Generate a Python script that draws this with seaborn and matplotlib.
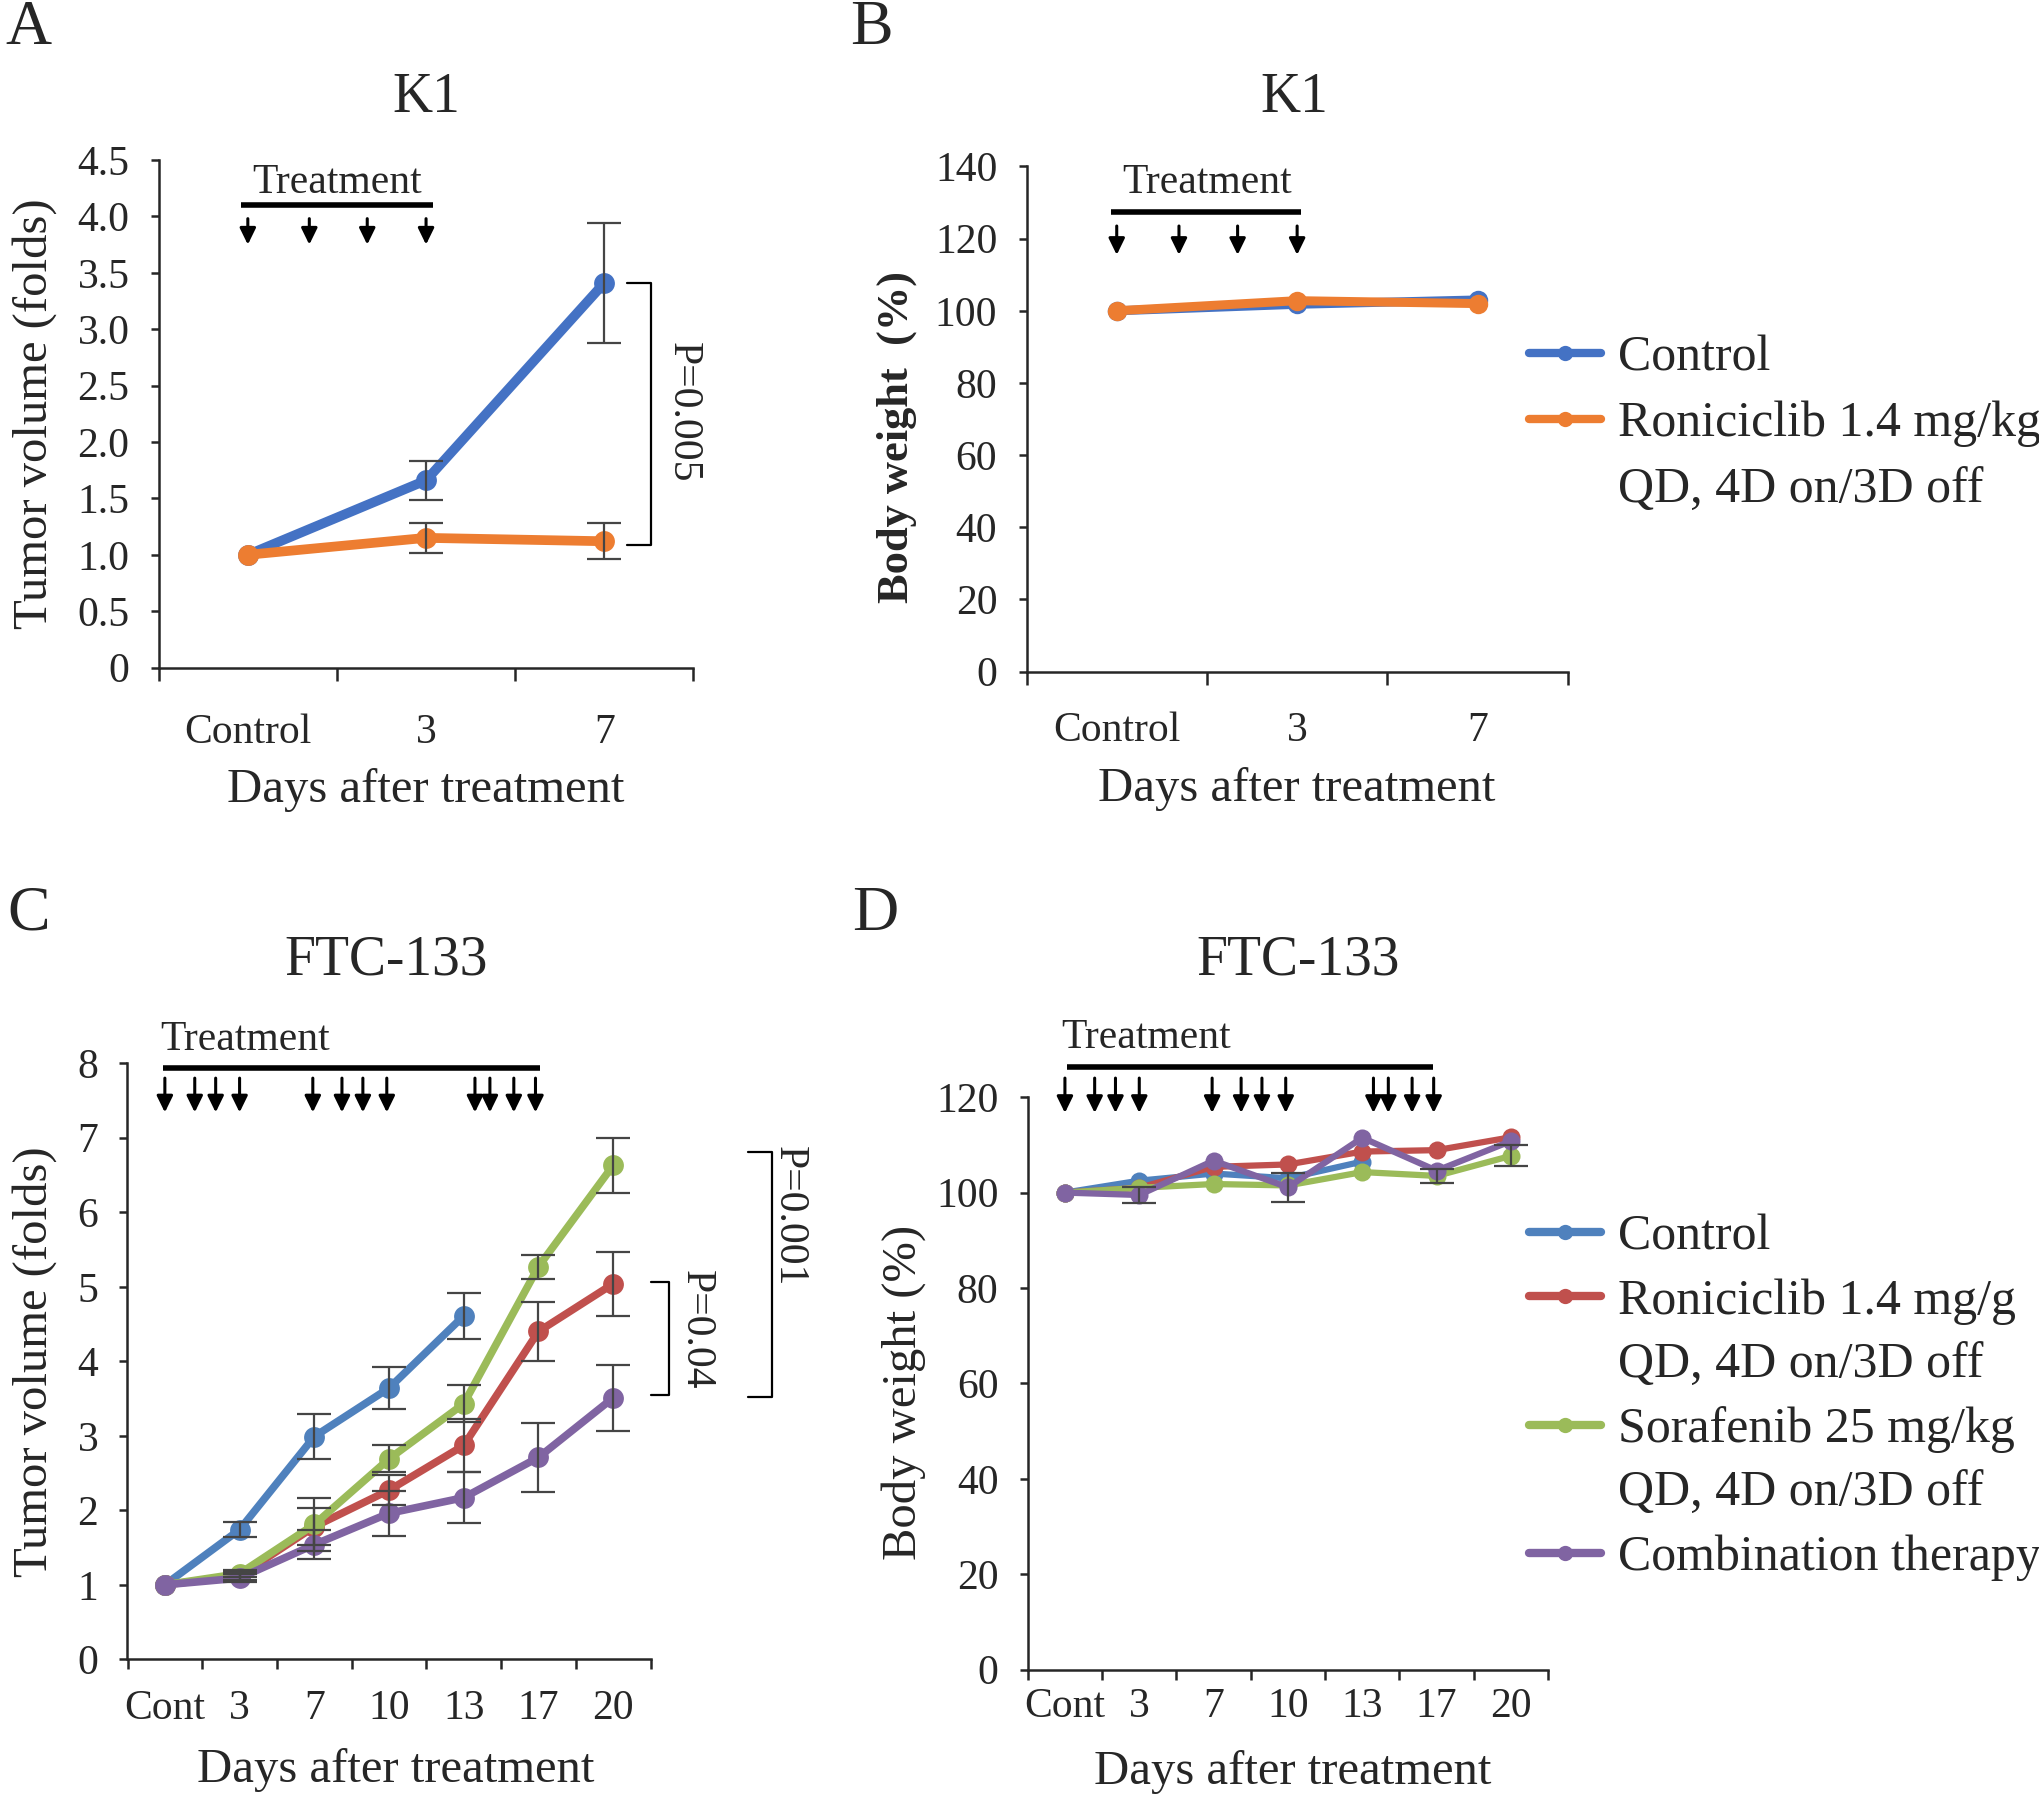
import numpy as np
import pandas as pd
import matplotlib
matplotlib.use("Agg")
import matplotlib.pyplot as plt
from matplotlib.lines import Line2D
import seaborn as sns

# values
k1_days = ["Control", "3", "7"]
k1_vol_ctrl = [1.0, 1.66, 3.41]
k1_vol_ctrl_err = [0, 0.17, 0.53]
k1_vol_ron = [1.0, 1.15, 1.12]
k1_vol_ron_err = [0, 0.13, 0.16]
k1_bw_ctrl = [100, 101.8, 103.0]
k1_bw_ron = [100, 102.8, 102.0]
k1_doses = [0, 0.345, 0.67, 1.0]

ftc_days = ["Cont", "3", "7", "10", "13", "17", "20"]
ftc_vol_ctrl = [1.0, 1.74, 2.99, 3.64, 4.61, np.nan, np.nan]
ftc_vol_ctrl_err = [0, 0.10, 0.30, 0.28, 0.31, np.nan, np.nan]
ftc_vol_ron = [1.0, 1.12, 1.78, 2.27, 2.87, 4.40, 5.04]
ftc_vol_ron_err = [0, 0.05, 0.25, 0.20, 0.35, 0.40, 0.43]
ftc_vol_sora = [1.0, 1.15, 1.81, 2.69, 3.43, 5.27, 6.63]
ftc_vol_sora_err = [0, 0.05, 0.36, 0.18, 0.25, 0.16, 0.37]
ftc_vol_combo = [1.0, 1.09, 1.54, 1.96, 2.17, 2.71, 3.51]
ftc_vol_combo_err = [0, 0.05, 0.20, 0.30, 0.34, 0.46, 0.44]

ftc_bw_ctrl = [100, 102.5, 104.0, 103.0, 106.5, np.nan, np.nan]
ftc_bw_ron = [100, 101.0, 105.4, 105.9, 108.6, 108.9, 111.6]
ftc_bw_sora = [100, 101.0, 101.8, 101.5, 104.3, 103.5, 107.7]
ftc_bw_combo = [100, 99.5, 106.7, 101.1, 111.5, 104.6, 110.8]
ftc_bw_sora_err = [0, 0, 0, 0, 0, 1.5, 2.2]
ftc_bw_combo_err = [0, 1.6, 0, 3.0, 0, 0, 0]
ftc_doses = [0, 0.4, 0.68, 1.0, 1.98, 2.37, 2.65, 2.97, 4.15, 4.35, 4.67, 4.96]

vol_k1_ticks = [0, 0.5, 1.0, 1.5, 2.0, 2.5, 3.0, 3.5, 4.0, 4.5]
vol_k1_ticklabels = ["0", "0.5", "1.0", "1.5", "2.0", "2.5", "3.0", "3.5", "4.0", "4.5"]
bw_k1_ticks = [0, 20, 40, 60, 80, 100, 120, 140]
vol_ftc_ticks = [0, 1, 2, 3, 4, 5, 6, 7, 8]
bw_ftc_ticks = [0, 20, 40, 60, 80, 100, 120]

k1_names = ["Control", "Roniciclib 1.4 mg/kg"]
k1_colors = ["#4472C4", "#ED7D31"]
ftc_names = ["Control", "Roniciclib 1.4 mg/g", "Sorafenib 25 mg/kg", "Combination therapy"]
ftc_colors = ["#4F81BD", "#C0504D", "#9BBB59", "#8064A2"]

sns.set_style("ticks")
plt.rcParams["font.family"] = ["Liberation Serif", "DejaVu Serif"]
plt.rcParams["axes.linewidth"] = 1.8


def draw_lines(ax, days, series, errs, colors, lw, ms):
    x = np.arange(len(days))
    rows = []
    for name, vals in series.items():
        for xi, v in zip(x, vals):
            rows.append((xi, v, name))
    df = pd.DataFrame(rows, columns=["pos", "value", "group"]).dropna()
    sns.lineplot(data=df, x="pos", y="value", hue="group", hue_order=list(series),
                 palette=colors, estimator=None, errorbar=None, marker="o",
                 markersize=ms, markeredgewidth=0, linewidth=lw, legend=False,
                 sort=False, ax=ax)
    for name, e in errs.items():
        v = np.array(series[name], float)
        e = np.array(e, float)
        m = e > 0
        ax.errorbar(x[m], v[m], yerr=e[m], fmt="none", ecolor="#454545",
                    elinewidth=1.6, capsize=12, capthick=1.6, zorder=4)


def style_axes(ax, days, ylim, yticks, yticklabels, xtick_len, xpad):
    n = len(days)
    ax.set_xlim(-0.5, n - 0.5)
    ax.set_ylim(*ylim)
    ax.set_xticks(np.arange(n + 1) - 0.5)
    ax.set_xticklabels([])
    ax.set_xticks(np.arange(n), minor=True)
    ax.set_xticklabels(days, minor=True)
    ax.tick_params(axis="x", which="major", length=xtick_len, width=1.8, direction="out")
    ax.tick_params(axis="x", which="minor", length=0, pad=xpad, labelsize=30)
    ax.set_yticks(yticks)
    ax.set_yticklabels(yticklabels)
    ax.tick_params(axis="y", length=6, width=1.8, pad=15, labelsize=30)
    sns.despine(ax=ax)


def treatment(ax, doses, bar, y_bar, y_arrow, text_xy, ha):
    ax.plot(bar, [y_bar, y_bar], color="k", lw=4, clip_on=False, solid_capstyle="butt")
    for d in doses:
        ax.annotate("", xy=(d, y_arrow[1]), xytext=(d, y_arrow[0]),
                    arrowprops=dict(arrowstyle="-|>,head_length=0.45,head_width=0.22",
                                    color="k", lw=2.2, mutation_scale=22,
                                    shrinkA=0, shrinkB=0),
                    annotation_clip=False)
    ax.text(text_xy[0], text_xy[1], "Treatment", ha=ha, va="center", fontsize=30)


def bracket(ax, x, x_cap, y0, y1, label, tx, ty):
    ax.plot([x_cap, x, x, x_cap], [y0, y0, y1, y1], color="k", lw=1.6, clip_on=False)
    ax.text(tx, ty, label, rotation=270, ha="center", va="center", fontsize=30)


def add_legend(fig, names, colors, y_top, spacing):
    handles, labels = [], []
    for name, c in zip(names, colors):
        handles.append(Line2D([], [], color=c, lw=6, marker="o", markersize=11,
                              markeredgewidth=0))
        labels.append(name)
        if name != "Control" and name != "Combination therapy":
            handles.append(Line2D([], [], lw=0))
            labels.append("QD, 4D on/3D off")
    fig.legend(handles, labels, loc="upper left", bbox_to_anchor=(0.7494, y_top),
               frameon=False, fontsize=36, handlelength=1.45, handletextpad=0.33,
               labelspacing=spacing, borderaxespad=0, borderpad=0)


fig = plt.figure(figsize=(20.4, 17.96), dpi=100)

# A: K1 tumour volume
ax = fig.add_axes([0.0778, 0.6283, 0.2621, 0.2826])
draw_lines(ax, k1_days, dict(zip(k1_names, [k1_vol_ctrl, k1_vol_ron])),
           dict(zip(k1_names, [k1_vol_ctrl_err, k1_vol_ron_err])), k1_colors, 7, 15)
style_axes(ax, k1_days, (0, 4.5), vol_k1_ticks, vol_k1_ticklabels, 9, 33)
treatment(ax, k1_doses, [-0.04, 1.04], 4.10, (3.98, 3.75), (0.5, 4.3), "center")
bracket(ax, 2.26, 2.13, 3.41, 1.09, "P=0.005", 2.44, 2.26)
ax.set_xlabel("Days after treatment", fontsize=35)
ax.set_ylabel("Tumor volume (folds)", fontsize=35)
ax.xaxis.set_label_coords(0.5, -0.197)
ax.yaxis.set_label_coords(-0.19, 0.5)

# B: K1 body weight
ax = fig.add_axes([0.5032, 0.6261, 0.2653, 0.2812])
draw_lines(ax, k1_days, dict(zip(k1_names, [k1_bw_ctrl, k1_bw_ron])), {}, k1_colors, 6.5, 14)
style_axes(ax, k1_days, (0, 140), bw_k1_ticks, bw_k1_ticks, 9, 29)
treatment(ax, k1_doses, [-0.03, 1.02], 127.3, (123.5, 115.5), (0.5, 135.5), "center")
ax.set_xlabel("Days after treatment", fontsize=35)
ax.set_ylabel("Body weight  (%)", fontsize=32, fontweight="bold")
ax.xaxis.set_label_coords(0.5, -0.19)
ax.yaxis.set_label_coords(-0.202, 0.465)
add_legend(fig, k1_names, k1_colors, 0.8135, 0.39)

# C: FTC-133 tumour volume
ax = fig.add_axes([0.0625, 0.0761, 0.2564, 0.3319])
draw_lines(ax, ftc_days,
           dict(zip(ftc_names, [ftc_vol_ctrl, ftc_vol_ron, ftc_vol_sora, ftc_vol_combo])),
           dict(zip(ftc_names, [ftc_vol_ctrl_err, ftc_vol_ron_err, ftc_vol_sora_err,
                                ftc_vol_combo_err])),
           ftc_colors, 5.5, 15)
style_axes(ax, ftc_days, (0, 8), vol_ftc_ticks, vol_ftc_ticks, 7, 22)
treatment(ax, ftc_doses, [-0.03, 5.02], 7.94, (7.80, 7.34), (-0.06, 8.31), "left")
bracket(ax, 6.75, 6.50, 5.07, 3.55, "P=0.04", 7.11, 4.42)
bracket(ax, 8.12, 7.81, 6.81, 3.52, "P=0.001", 8.35, 5.95)
ax.set_xlabel("Days after treatment", fontsize=35)
ax.set_ylabel("Tumor volume (folds)", fontsize=35)
ax.xaxis.set_label_coords(0.512, -0.149)
ax.yaxis.set_label_coords(-0.135, 0.5)

# D: FTC-133 body weight
ax = fig.add_axes([0.5038, 0.0703, 0.2551, 0.3188])
draw_lines(ax, ftc_days,
           dict(zip(ftc_names, [ftc_bw_ctrl, ftc_bw_ron, ftc_bw_sora, ftc_bw_combo])),
           {"Sorafenib 25 mg/kg": ftc_bw_sora_err, "Combination therapy": ftc_bw_combo_err},
           ftc_colors, 4.5, 13)
style_axes(ax, ftc_days, (0, 120), bw_ftc_ticks, bw_ftc_ticks, 7, 13)
treatment(ax, ftc_doses, [0.03, 4.95], 126.3, (124.0, 116.7), (-0.05, 132.5), "left")
ax.set_xlabel("Days after treatment", fontsize=35)
ax.set_ylabel("Body weight (%)", fontsize=35)
ax.xaxis.set_label_coords(0.51, -0.141)
ax.yaxis.set_label_coords(-0.196, 0.484)
add_legend(fig, ftc_names, ftc_colors, 0.324, 0.35)

# panel titles and letters
fig.text(0.209, 0.9457, "K1", ha="center", va="center", fontsize=40)
fig.text(0.6346, 0.9457, "K1", ha="center", va="center", fontsize=40)
fig.text(0.1894, 0.4652, "FTC-133", ha="center", va="center", fontsize=40)
fig.text(0.6365, 0.4652, "FTC-133", ha="center", va="center", fontsize=40)
for letter, x, y in [("A", 0.014, 0.984), ("B", 0.427, 0.984),
                     ("C", 0.014, 0.4906), ("D", 0.429, 0.4906)]:
    fig.text(x, y, letter, ha="center", va="center", fontsize=46)

fig.savefig("out.png", dpi=100)
